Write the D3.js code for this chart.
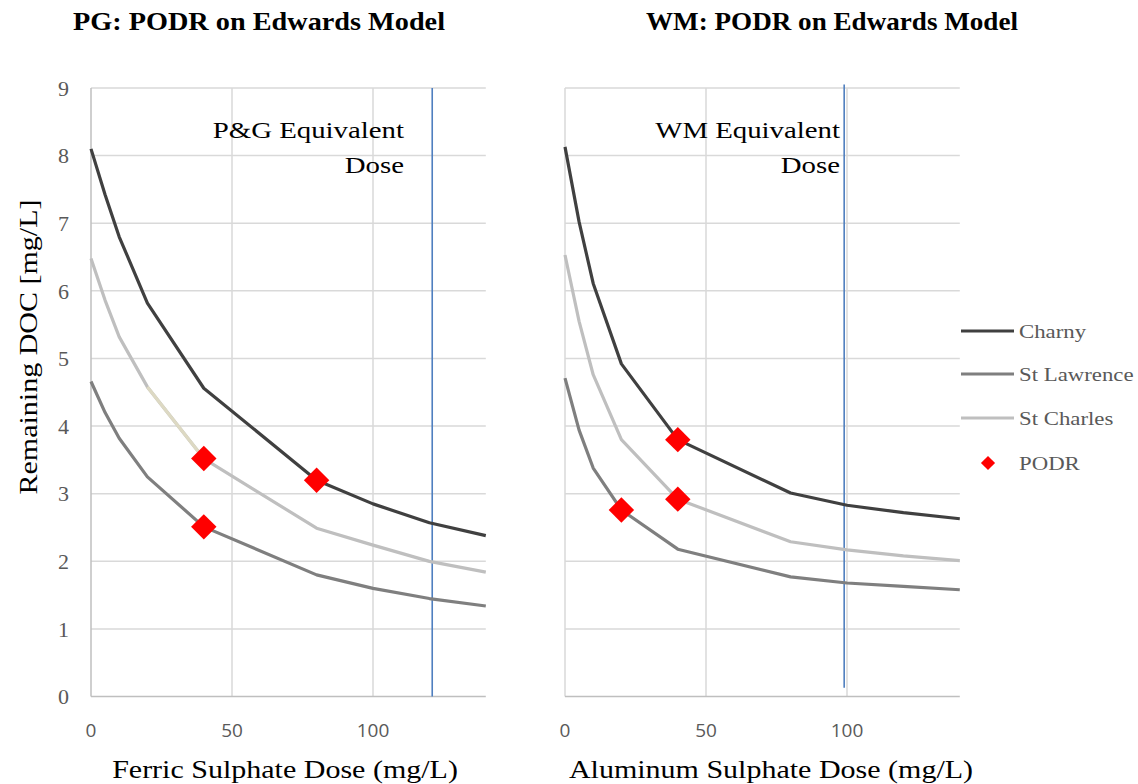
<!doctype html>
<html lang="en">
  <head>
    <meta charset="utf-8">
    <title>PODR on Edwards Model</title>
    <style>
      body { margin: 0; background: #fff; }
      text { font-family: "Liberation Serif", serif; }
    </style>
  </head>
  <body>
    <script src="https://cdn.jsdelivr.net/npm/d3@7"></script>
    <script>
      // dose points shared by every curve (mg/L)
      var dose = [0, 5, 10, 20, 40, 80, 100, 120, 140];

      // PG panel (ferric sulphate)
      var pgCharny     = [8.10, 7.42, 6.80, 5.82, 4.56, 3.20, 2.85, 2.57, 2.38];
      var pgStLawrence = [4.66, 4.20, 3.82, 3.25, 2.51, 1.80, 1.60, 1.45, 1.34];
      var pgStCharles  = [6.48, 5.86, 5.32, 4.58, 3.52, 2.49, 2.24, 2.00, 1.84];
      var pgPodrX = [40, 40, 80];
      var pgPodrY = [3.52, 2.51, 3.20];
      var pgEquivDose = 121;

      // WM panel (aluminum sulphate)
      var wmCharny     = [8.13, 7.02, 6.11, 4.92, 3.80, 3.01, 2.83, 2.72, 2.63];
      var wmStLawrence = [4.71, 3.94, 3.38, 2.76, 2.18, 1.77, 1.68, 1.63, 1.58];
      var wmStCharles  = [6.53, 5.55, 4.76, 3.80, 2.92, 2.29, 2.17, 2.08, 2.01];
      var wmPodrX = [20, 40, 40];
      var wmPodrY = [2.76, 3.80, 2.92];
      var wmEquivDose = 99;

      var xTicks = [0, 50, 100];
      var yTicks = [0, 1, 2, 3, 4, 5, 6, 7, 8, 9];
      var seriesNames = ["Charny", "St Lawrence", "St Charles", "PODR"];
      var seriesColors = ["#404040", "#7f7f7f", "#bfbfbf", "#ff0000"];

      var svg = d3.select("body").append("svg")
        .attr("width", 1138)
        .attr("height", 784);

      var y = d3.scaleLinear().domain([0, 9]).range([696.6, 88]);

      // Liberation Serif is narrower than the original Palatino, so stretch
      function fit(sel) {
        sel.attr("textLength", function(){ return this.getComputedTextLength() * 1.2; })
           .attr("lengthAdjust", "spacingAndGlyphs");
      }

      function panel(opt) {
        var x = d3.scaleLinear().domain([0, 140]).range([opt.left, opt.left + 394.8]);
        var g = svg.append("g");

        // horizontal grid
        g.selectAll(".hgrid")
          .data(yTicks.filter(function(d){ return d > 0; }))
          .enter().append("line")
          .attr("x1", x(0)).attr("x2", x(140))
          .attr("y1", function(d){ return y(d); })
          .attr("y2", function(d){ return y(d); })
          .attr("stroke", "#d9d9d9").attr("stroke-width", 1.5);

        // vertical grid
        g.selectAll(".vgrid")
          .data(xTicks.filter(function(d){ return d > 0; }))
          .enter().append("line")
          .attr("x1", function(d){ return x(d); })
          .attr("x2", function(d){ return x(d); })
          .attr("y1", y(9)).attr("y2", y(0))
          .attr("stroke", "#d9d9d9").attr("stroke-width", 1.5);

        // axis lines
        g.append("line")
          .attr("x1", x(0)).attr("x2", x(0)).attr("y1", y(9)).attr("y2", y(0))
          .attr("stroke", opt.yLabels ? "#bfbfbf" : "#d9d9d9").attr("stroke-width", 1.5);
        g.append("line")
          .attr("x1", x(0)).attr("x2", x(140)).attr("y1", y(0)).attr("y2", y(0))
          .attr("stroke", "#bfbfbf").attr("stroke-width", 1.5);

        // x tick labels
        g.selectAll(".xt")
          .data(xTicks)
          .enter().append("text")
          .attr("x", function(d){ return x(d); })
          .attr("y", 737)
          .attr("text-anchor", "middle")
          .style("font-family", "'Open Sans', sans-serif")
          .style("font-size", "19px")
          .attr("fill", "#595959")
          .text(function(d){ return d; });

        if (opt.yLabels) {
          g.selectAll(".yt")
            .data(yTicks)
            .enter().append("text")
            .attr("x", 69)
            .attr("y", function(d){ return y(d); })
            .attr("dy", "0.35em")
            .attr("text-anchor", "end")
            .style("font-size", "22px")
            .attr("fill", "#595959")
            .text(function(d){ return d; });
        }

        // equivalent dose line
        g.append("line")
          .attr("x1", x(opt.equiv)).attr("x2", x(opt.equiv))
          .attr("y1", y(opt.equivTop)).attr("y2", y(opt.equivBottom))
          .attr("stroke", "#4f7fbf").attr("stroke-width", 1.6);

        var line = d3.line()
          .x(function(d){ return x(d[0]); })
          .y(function(d){ return y(d[1]); });

        [opt.stLawrence, opt.stCharles, opt.charny].forEach(function(vals, i) {
          var col = [seriesColors[1], seriesColors[2], seriesColors[0]][i];
          g.append("path")
            .datum(d3.zip(dose, vals))
            .attr("d", line)
            .attr("fill", "none")
            .attr("stroke", col)
            .attr("stroke-width", 3.2)
            .attr("stroke-linejoin", "round");
        });

        if (opt.highlight) {
          var seg = d3.zip(dose, opt.stCharles).filter(function(d){
            return d[0] >= opt.highlight[0] && d[0] <= opt.highlight[1];
          });
          g.append("path")
            .datum(seg)
            .attr("d", line)
            .attr("fill", "none")
            .attr("stroke", "#ddd9c3")
            .attr("stroke-width", 3.2);
        }

        // PODR markers
        g.selectAll(".podr")
          .data(d3.zip(opt.podrX, opt.podrY))
          .enter().append("rect")
          .attr("x", -9).attr("y", -9)
          .attr("width", 18).attr("height", 18)
          .attr("fill", "#ff0000")
          .attr("transform", function(d){
            return "translate(" + x(d[0]) + "," + y(d[1]) + ") rotate(45)";
          });

        // annotation
        var ann = g.append("text")
          .attr("text-anchor", "end")
          .style("font-size", "24px")
          .attr("fill", "#000");
        ann.append("tspan").attr("x", opt.annX).attr("y", 138).text(opt.annLine1).call(fit);
        ann.append("tspan").attr("x", opt.annX).attr("y", 173).text("Dose").call(fit);

        // title
        svg.append("text")
          .attr("x", opt.titleX).attr("y", 30)
          .attr("text-anchor", "middle")
          .style("font-size", "25px")
          .style("font-weight", "bold")
          .text(opt.title)
          .attr("textLength", 372)
          .attr("lengthAdjust", "spacingAndGlyphs");

        // x axis title
        svg.append("text")
          .attr("x", opt.xTitleX).attr("y", 778)
          .attr("text-anchor", "middle")
          .style("font-size", "25px")
          .text(opt.xTitle)
          .call(fit);
      }

      panel({
        left: 91, yLabels: true,
        charny: pgCharny, stLawrence: pgStLawrence, stCharles: pgStCharles,
        podrX: pgPodrX, podrY: pgPodrY,
        equiv: pgEquivDose, equivTop: 9, equivBottom: 0,
        highlight: [20, 40],
        annX: 404, annLine1: "P&G Equivalent",
        title: "PG: PODR on Edwards Model", titleX: 259,
        xTitle: "Ferric Sulphate Dose (mg/L)", xTitleX: 285
      });

      panel({
        left: 565, yLabels: false,
        charny: wmCharny, stLawrence: wmStLawrence, stCharles: wmStCharles,
        podrX: wmPodrX, podrY: wmPodrY,
        equiv: wmEquivDose, equivTop: 9.05, equivBottom: 0.13,
        annX: 840, annLine1: "WM Equivalent",
        title: "WM: PODR on Edwards Model", titleX: 832,
        xTitle: "Aluminum Sulphate Dose (mg/L)", xTitleX: 771
      });

      // y axis title
      svg.append("text")
        .attr("transform", "translate(37,347) rotate(-90)")
        .attr("text-anchor", "middle")
        .style("font-size", "25px")
        .text("Remaining DOC [mg/L]")
        .call(fit);

      // legend
      var legend = svg.append("g");
      var legendY = [331, 374, 418, 463];
      seriesNames.forEach(function(name, i) {
        if (i < 3) {
          legend.append("line")
            .attr("x1", 961).attr("x2", 1014)
            .attr("y1", legendY[i]).attr("y2", legendY[i])
            .attr("stroke", seriesColors[i]).attr("stroke-width", 3.2);
        } else {
          legend.append("rect")
            .attr("x", -5).attr("y", -5).attr("width", 10).attr("height", 10)
            .attr("fill", seriesColors[i])
            .attr("transform", "translate(988," + legendY[i] + ") rotate(45)");
        }
        legend.append("text")
          .attr("x", 1019).attr("y", legendY[i])
          .attr("dy", "0.35em")
          .style("font-size", "19px")
          .attr("fill", "#595959")
          .text(name)
          .call(fit);
      });
    </script>
  </body>
</html>
